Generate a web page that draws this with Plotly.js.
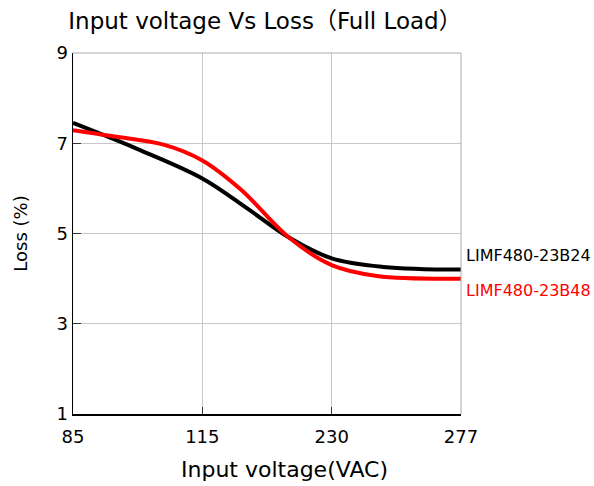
<!DOCTYPE html>
<html><head><meta charset="utf-8">
<script src="https://cdn.plot.ly/plotly-3.0.1.min.js"></script>
<style>html,body{margin:0;padding:0;background:#fff}#chart{width:594px;height:486px}</style>
</head><body><div id="chart"></div>
<script>
const tickLabels = ["85","115","230","277"];
const tickPos = [0,1,2,3];
// x in category-index units (0 = 85 VAC, 1 = 115, 2 = 230, 3 = 277)
const xB24 = [0,0.5,1.0,1.35,1.67,2.0,2.4,3.0];
const yB24 = [7.45,6.87,6.22,5.55,4.91,4.45,4.26,4.2];
const xB48 = [0,0.3,0.7,1.0,1.3,1.67,2.0,2.35,3.0];
const yB48 = [7.29,7.16,6.97,6.62,5.97,4.91,4.3,4.06,4.0];
const names = ["LIMF480-23B24","LIMF480-23B48"];
const colors = ["#000000","#ff0000"];
const font = "'DejaVu Sans', 'Noto Sans CJK SC', sans-serif";

const traces = [
  {x:xB24,y:yB24,mode:'lines',line:{color:colors[0],width:4,shape:'spline',smoothing:1},name:names[0]},
  {x:xB48,y:yB48,mode:'lines',line:{color:colors[1],width:4,shape:'spline',smoothing:1},name:names[1]}
];
const layout = {
  width:594,height:486,showlegend:false,
  paper_bgcolor:'#fff',plot_bgcolor:'#fff',
  margin:{l:73,r:133,t:53,b:72},
  font:{family:font,color:'#000'},
  title:{text:'Input voltage Vs Loss（Full Load）',x:0.115,xanchor:'left',y:0.956,yanchor:'middle',font:{size:23,color:'#000',family:font}},
  xaxis:{range:[0,3],tickvals:tickPos,ticktext:tickLabels,showgrid:true,gridcolor:'#c8c8c8',gridwidth:1,
    showline:true,linecolor:'#000',linewidth:1.5,ticks:'inside',ticklen:7,tickcolor:'#333',
    tickfont:{size:18,color:'#000'},zeroline:false,ticklabelstandoff:6},
  yaxis:{range:[1,9],tickvals:[1,3,5,7,9],showgrid:true,gridcolor:'#c8c8c8',gridwidth:1,
    showline:true,linecolor:'#000',linewidth:1.5,ticks:'inside',ticklen:8,tickcolor:'#333',
    tickfont:{size:18,color:'#000'},zeroline:false,
    title:{text:'Loss (%)',font:{size:18,color:'#000'},standoff:24}},
  shapes:[
    {type:'line',xref:'paper',yref:'paper',x0:1,x1:1,y0:0,y1:1,line:{color:'#aaa',width:1}},
    {type:'line',xref:'paper',yref:'paper',x0:0,x1:1,y0:1,y1:1,line:{color:'#aaa',width:1}}
  ],
  annotations:[
    {xref:'paper',yref:'paper',x:0.546,y:-0.155,xanchor:'center',yanchor:'middle',showarrow:false,text:'Input voltage(VAC)',font:{size:22,color:'#000'}},
    {xref:'paper',yref:'y',x:1,y:4.51,xanchor:'left',xshift:3,showarrow:false,text:names[0],font:{size:16,color:colors[0]}},
    {xref:'paper',yref:'y',x:1,y:3.73,xanchor:'left',xshift:3,showarrow:false,text:names[1],font:{size:16,color:colors[1]}}
  ]
};
Plotly.newPlot('chart',traces,layout,{displayModeBar:false,staticPlot:true});
</script></body></html>
